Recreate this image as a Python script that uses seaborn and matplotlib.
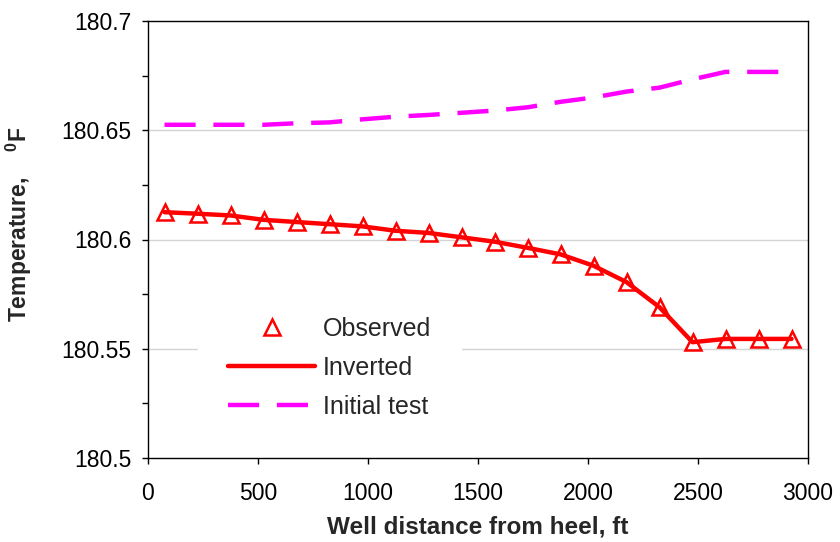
import matplotlib
matplotlib.use("Agg")
import matplotlib.pyplot as plt
from matplotlib.ticker import MultipleLocator, FuncFormatter
from matplotlib.lines import Line2D
import seaborn as sns
import pandas as pd

# ---- data ----
distance_ft = [75, 225, 375, 525, 675, 825, 975, 1125, 1275, 1425,
               1575, 1725, 1875, 2025, 2175, 2325, 2475, 2625, 2775, 2925]
observed = [180.6125, 180.6118, 180.6110, 180.6090, 180.6080, 180.6070, 180.6060,
            180.6040, 180.6030, 180.6010, 180.5990, 180.5962, 180.5932, 180.5880,
            180.5805, 180.5690, 180.5530, 180.5545, 180.5545, 180.5545]
inverted = [180.6125, 180.6118, 180.6110, 180.6090, 180.6080, 180.6070, 180.6060,
            180.6040, 180.6030, 180.6010, 180.5990, 180.5962, 180.5932, 180.5880,
            180.5805, 180.5690, 180.5530, 180.5545, 180.5545, 180.5545]
initial_test = [180.6525, 180.6525, 180.6525, 180.6525, 180.6532, 180.6536, 180.6550,
                180.6562, 180.6570, 180.6580, 180.6590, 180.6605, 180.6630, 180.6650,
                180.6677, 180.6695, 180.6733, 180.6767, 180.6767, 180.6767]
series_labels = ["Observed", "Inverted", "Initial test"]
x_label = "Well distance from heel, ft"
y_label = r"Temperature,    $\mathbf{^{0}}$F"

df = pd.DataFrame({"x": distance_ft, "obs": observed, "inv": inverted, "init": initial_test})

sns.set_style("white")
plt.rcParams["font.family"] = ["Liberation Sans", "DejaVu Sans"]
plt.rcParams["mathtext.fontset"] = "custom"
plt.rcParams["mathtext.rm"] = "Liberation Sans"
plt.rcParams["mathtext.bf"] = "Liberation Sans:bold"

fig = plt.figure(figsize=(8.4, 5.42), dpi=100)
ax = fig.add_axes([148 / 840, 84 / 542, 660 / 840, 437 / 542])

red = "#ff0000"
magenta = "#ff00ff"

sns.lineplot(data=df, x="x", y="init", ax=ax, color=magenta, lw=3.2,
             dashes=False, linestyle=(0, (7, 4)), zorder=3)
sns.lineplot(data=df, x="x", y="inv", ax=ax, color=red, lw=3.2, zorder=4)
sns.lineplot(data=df, x="x", y="obs", ax=ax, color=red, linestyle="none",
             marker="^", markersize=12, markerfacecolor="none",
             markeredgecolor=red, markeredgewidth=1.8, zorder=5)

ax.set_xlim(0, 3000)
ax.set_ylim(180.5, 180.7)
ax.xaxis.set_major_locator(MultipleLocator(500))
ax.yaxis.set_major_locator(MultipleLocator(0.05))
ax.yaxis.set_minor_locator(MultipleLocator(0.025))
ax.yaxis.set_major_formatter(FuncFormatter(lambda v, p: f"{v:g}"))
ax.xaxis.set_major_formatter(FuncFormatter(lambda v, p: f"{v:g}"))

for yv in [180.55, 180.6, 180.65]:
    ax.axhline(yv, color="#d4d4d4", lw=1.0, zorder=1)

for s in ax.spines.values():
    s.set_visible(True)
    s.set_color("black")
    s.set_linewidth(1.0)

ax.tick_params(axis="x", which="major", direction="out", length=4.5, width=1.0,
               labelsize=16.5, pad=13, bottom=True, colors="black")
ax.tick_params(axis="y", which="both", direction="out", length=4, width=1.0,
               labelsize=16.5, pad=8, left=True, colors="black")

ax.set_xlabel(x_label, fontsize=17.5, fontweight="bold")
ax.set_ylabel(y_label, fontsize=16.5, fontweight="bold")
ax.xaxis.set_label_coords(0.5, -0.132)
ax.yaxis.set_label_coords(-0.172, 0.535)

handles = [
    Line2D([], [], color=red, linestyle="none", marker="^", markersize=12,
           markerfacecolor="none", markeredgecolor=red, markeredgewidth=1.8),
    Line2D([], [], color=red, lw=3.2),
    Line2D([], [], color=magenta, lw=3.2, linestyle=(0, (7, 4))),
]
leg = ax.legend(handles, series_labels, loc="upper left",
                bbox_to_anchor=(0.0755, 0.392), borderaxespad=0, fontsize=18,
                frameon=True, fancybox=False, framealpha=1.0, edgecolor="white",
                facecolor="white", borderpad=1.2, handlelength=3.5,
                handletextpad=0.3, labelspacing=0.6)
leg.set_zorder(2)

fig.savefig("out.png", dpi=100, facecolor="white")
